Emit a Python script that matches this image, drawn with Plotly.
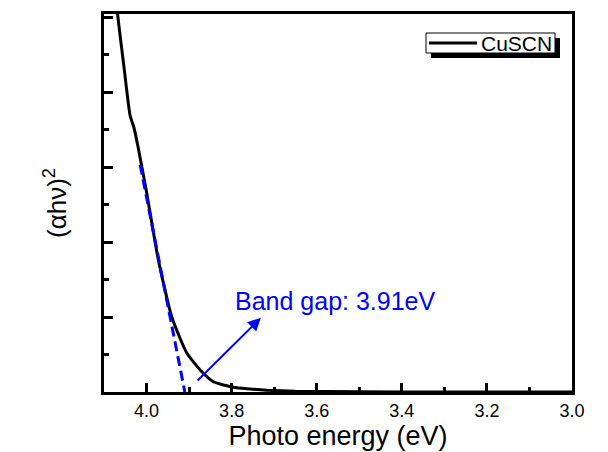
import plotly.graph_objects as go

# ---- data ----
energy = [4.072, 4.0678, 4.0534, 4.0388, 4.0294, 4.0193, 3.9995, 3.9722, 3.9407,
          3.9054, 3.870, 3.843, 3.819, 3.796, 3.764, 3.717, 3.65, 3.5, 3.3, 3.0]
ahv2 = [5.40, 5.027, 4.35, 3.69, 3.52, 3.25, 2.65, 1.76, 1.00,
        0.52, 0.27, 0.137, 0.093, 0.063, 0.043, 0.024, 0.010, 0.003, 0.001, 0.0005]

fit_x = [4.015, 3.91]
fit_y = [3.03, 0.0]

series_name = "CuSCN"
x_title = "Photo energy (eV)"
y_title = "(αhν)<sup>2</sup>"
gap_label = "Band gap: 3.91eV"
x_ticks = [4.0, 3.8, 3.6, 3.4, 3.2, 3.0]
x_ticktext = ["4.0", "3.8", "3.6", "3.4", "3.2", "3.0"]

FONT = "Arial, Liberation Sans, sans-serif"
BLUE = "#0000FF"

# plot area geometry (pixels) used for paper-coordinate conversion of the legend box
L, R, T, B = 104, 572, 14, 392
def px(x): return (x - L) / (R - L)
def py(y): return (B - y) / (B - T)

fig = go.Figure()
fig.add_trace(go.Scatter(x=energy, y=ahv2, mode="lines", name=series_name,
                         line=dict(color="black", width=3, shape="spline", smoothing=0.5)))
fig.add_trace(go.Scatter(x=fit_x, y=fit_y, mode="lines", showlegend=False,
                         line=dict(color=BLUE, width=3, dash="10px,5px")))

# arrow
fig.add_annotation(x=3.7313, y=0.99, ax=3.8835, ay=0.133, xref="x", yref="y",
                   axref="x", ayref="y", text="", showarrow=True,
                   arrowhead=2, arrowsize=1.3, arrowwidth=2, arrowcolor=BLUE)
fig.add_annotation(x=3.797, y=1.22, xref="x", yref="y", text=gap_label,
                   showarrow=False, xanchor="left", yanchor="middle",
                   font=dict(family=FONT, size=25, color=BLUE))

# legend box with shadow
fig.add_shape(type="rect", xref="paper", yref="paper",
              x0=px(431), x1=px(560), y0=py(58), y1=py(38),
              fillcolor="black", line=dict(width=0), layer="above")
fig.add_shape(type="rect", xref="paper", yref="paper",
              x0=px(426), x1=px(555), y0=py(53), y1=py(33),
              fillcolor="white", line=dict(color="black", width=1), layer="above")
fig.add_shape(type="line", xref="paper", yref="paper",
              x0=px(429), x1=px(477), y0=py(43), y1=py(43),
              line=dict(color="black", width=3), layer="above")
fig.add_annotation(x=px(479), y=py(43.5), xref="paper", yref="paper", text=series_name,
                   showarrow=False, xanchor="left", yanchor="middle",
                   font=dict(family=FONT, size=21, color="black"))

fig.update_layout(
    width=608, height=452,
    margin=dict(l=L, r=608 - R, t=T, b=452 - B),
    paper_bgcolor="white", plot_bgcolor="white",
    font=dict(family=FONT, color="black"),
    showlegend=False,
)
fig.update_xaxes(range=[4.1, 3.0], tickvals=x_ticks, ticktext=x_ticktext,
                 ticks="inside", ticklen=9, tickwidth=2.5, tickcolor="black",
                 minor=dict(dtick=0.1, tick0=3.0, ticks="inside", ticklen=5,
                            tickwidth=2.5, tickcolor="black"),
                 showline=True, linewidth=3, linecolor="black", mirror=True,
                 showgrid=False, zeroline=False, automargin=False,
                 tickfont=dict(family=FONT, size=18, color="black"),
                 title=dict(text=x_title, font=dict(family=FONT, size=27, color="black"), standoff=0))
fig.update_yaxes(range=[0, 5.04], dtick=1, tick0=0, showticklabels=False,
                 ticks="inside", ticklen=9, tickwidth=2.5, tickcolor="black",
                 minor=dict(dtick=0.5, tick0=0, ticks="inside", ticklen=5,
                            tickwidth=2.5, tickcolor="black"),
                 showline=True, linewidth=3, linecolor="black", mirror=True,
                 showgrid=False, zeroline=False, automargin=False,
                 title=dict(text=y_title, font=dict(family=FONT, size=26, color="black"), standoff=27))

fig.write_html("out.html", config={"displayModeBar": False},
               post_script="document.body.style.margin='0';")
